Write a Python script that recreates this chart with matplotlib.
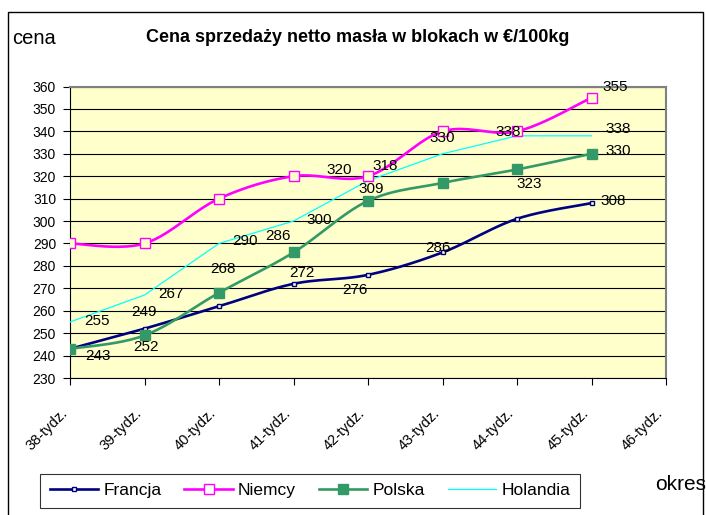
import matplotlib.pyplot as plt
from matplotlib.lines import Line2D
from matplotlib.patches import Rectangle
import matplotlib.transforms as mtransforms
import numpy as np

# data
weeks = ["38-tydz.", "39-tydz.", "40-tydz.", "41-tydz.", "42-tydz.",
         "43-tydz.", "44-tydz.", "45-tydz.", "46-tydz."]
francja = [243, 252, 262, 272, 276, 286, 301, 308]
niemcy = [290, 290, 310, 320, 320, 340, 340, 355]
polska = [243, 249, 268, 286, 309, 317, 323, 330]
holandia = [255, 267, 290, 300, 318, 330, 338, 338]

# data labels: point index, text offset in pixels (dx right, dy down)
labels_francja = [(0, 28, 7), (1, 2, 18), (3, 8, -11), (4, -13, 15), (5, -5, -4), (7, 22, -2)]
labels_polska = [(1, 0, -23), (2, 4, -24), (3, -15, -16), (4, 3, -12), (6, 12, 15), (7, 27, -3)]
labels_niemcy = [(4, -29, -6), (7, 24, -11)]
labels_holandia = [(0, 27, -1), (1, 26, -1), (2, 26, -2), (3, 26, -1), (4, 17, -15),
                   (5, 0, -16), (6, -9, -4), (7, 27, -7)]


# Excel-like smoothed line (Catmull-Rom through the points)
def Smooth(xs, ys, n=24):
    xs = np.asarray(xs, float)
    ys = np.asarray(ys, float)
    px = np.concatenate([[xs[0]], xs, [xs[-1]]])
    py = np.concatenate([[ys[0]], ys, [ys[-1]]])
    out_x, out_y = [], []
    t = np.linspace(0, 1, n)
    for i in range(1, len(px) - 2):
        p0, p1, p2, p3 = (px[i - 1], py[i - 1]), (px[i], py[i]), (px[i + 1], py[i + 1]), (px[i + 2], py[i + 2])
        c1 = (p1[0] + (p2[0] - p0[0]) / 6, p1[1] + (p2[1] - p0[1]) / 6)
        c2 = (p2[0] - (p3[0] - p1[0]) / 6, p2[1] - (p3[1] - p1[1]) / 6)
        for a, b in ((0, out_x), (1, out_y)):
            b.extend((1 - t) ** 3 * p1[a] + 3 * (1 - t) ** 2 * t * c1[a]
                     + 3 * (1 - t) * t ** 2 * c2[a] + t ** 3 * p2[a])
    return out_x, out_y


plt.rcParams["font.family"] = ["Liberation Sans", "DejaVu Sans"]

fig = plt.figure(figsize=(7.06, 5.15), dpi=100)
ax = fig.add_axes([70 / 706, 137 / 515, 596 / 706, 291.5 / 515])
ax.set_facecolor("#FFFFCC")

x = np.arange(len(francja))

c_fr, c_ni, c_po, c_ho = "#000080", "#FF00FF", "#339966", "#00FFFF"

ax.plot(x, holandia, color=c_ho, lw=0.9, zorder=3)
sx, sy = Smooth(x, francja)
ax.plot(sx, sy, color=c_fr, lw=1.9, zorder=4)
sx, sy = Smooth(x, niemcy)
ax.plot(sx, sy, color=c_ni, lw=1.9, zorder=4)
sx, sy = Smooth(x, polska)
ax.plot(sx, sy, color=c_po, lw=1.9, zorder=4)

ax.plot(x, francja, ls="none", marker="s", ms=3.5, mfc="#FFFFCC", mec=c_fr, mew=1, zorder=5)
ax.plot(x, niemcy, ls="none", marker="s", ms=6.5, mfc="#FFFFCC", mec=c_ni, mew=1, zorder=5)
ax.plot(x, polska, ls="none", marker="s", ms=7, mfc=c_po, mec=c_po, zorder=5)

for vals, lbls in ((francja, labels_francja), (polska, labels_polska),
                   (niemcy, labels_niemcy), (holandia, labels_holandia)):
    for i, dx, dy in lbls:
        ax.annotate(str(vals[i]), (x[i], vals[i]), xytext=(dx, -dy),
                    textcoords="offset pixels", ha="center", va="center",
                    fontsize=11, zorder=6)

ax.set_xlim(0, 8)
ax.set_ylim(230, 360)
ax.set_yticks(np.arange(230, 361, 10))
ax.set_xticks(np.arange(len(weeks)))
ax.set_xticklabels(weeks, rotation=45, ha="right", va="top", fontsize=10.5)
offset = mtransforms.ScaledTranslation(-7 / 100, 0, fig.dpi_scale_trans)
for lbl in ax.get_xticklabels():
    lbl.set_transform(lbl.get_transform() + offset)
ax.tick_params(axis="x", length=5, width=0.8, pad=15)
ax.tick_params(axis="y", length=5, width=0.8, pad=5, labelsize=10)
ax.grid(axis="y", color="black", lw=0.8)
ax.set_axisbelow(True)

ax.spines["left"].set_color("black")
ax.spines["bottom"].set_color("black")
for s in ("top", "right"):
    ax.spines[s].set_color("#808080")
    ax.spines[s].set_linewidth(1.5)

fig.text(358 / 706, 1 - 38 / 515, "Cena sprzedaży netto masła w blokach w €/100kg",
         ha="center", va="center", fontsize=13, fontweight="bold")
fig.text(12 / 706, 1 - 38 / 515, "cena", ha="left", va="center", fontsize=14.5)
fig.text(655 / 706, 1 - 484 / 515, "okres", ha="left", va="center", fontsize=15)

handles = [
    Line2D([], [], color=c_fr, lw=1.9, marker="s", ms=3.5, mfc="white", mec=c_fr),
    Line2D([], [], color=c_ni, lw=1.9, marker="s", ms=6.5, mfc="white", mec=c_ni),
    Line2D([], [], color=c_po, lw=1.9, marker="s", ms=7, mfc=c_po, mec=c_po),
    Line2D([], [], color=c_ho, lw=0.9),
]
leg = fig.legend(handles, ["Francja", "Niemcy", "Polska", "Holandia"], ncol=4,
                 loc="lower left", bbox_to_anchor=(40 / 706, 7 / 515, 540 / 706, 37 / 515),
                 mode="expand", fontsize=12.5, frameon=True, fancybox=False,
                 handlelength=2.8, handletextpad=0.3, borderaxespad=0, borderpad=0.55)
leg.get_frame().set_edgecolor("black")
leg.get_frame().set_linewidth(0.8)

fig.patches.append(Rectangle((8 / 706, -0.1), 695 / 706, 1.1 - 12 / 515,
                             transform=fig.transFigure, fill=False,
                             edgecolor="black", lw=1))

fig.savefig("out.png", dpi=100)
